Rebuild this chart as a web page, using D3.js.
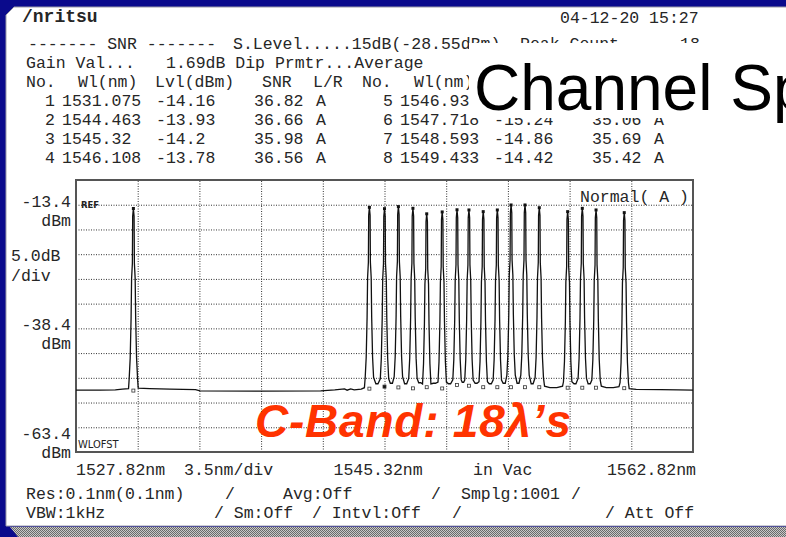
<!DOCTYPE html>
<html>
<head>
<meta charset="utf-8">
<script src="https://cdn.jsdelivr.net/npm/d3@7"></script>
<style>
  html, body { margin: 0; padding: 0; background: #0a0a8c; overflow: hidden; }
  svg { display: block; }
  .mono { font-family: "Liberation Mono", "DejaVu Sans Mono", monospace; font-size: 16.5px; fill: #262626; }
</style>
</head>
<body>
<div id="chart"></div>
<script>
// peaks (nm, dBm)
let peakWl = [1531.075, 1544.463, 1545.32, 1546.108, 1546.932, 1547.715, 1548.593, 1549.433,
              1550.11, 1550.92, 1551.72, 1552.50, 1553.29, 1554.10, 1555.71, 1556.54, 1557.32, 1558.92];
let peakLvl = [-14.16, -13.93, -14.2, -13.78, -14.12, -15.24, -14.86, -14.42,
               -14.46, -14.8, -14.46, -13.45, -13.45, -14.0, -14.8, -14.13, -14.46, -15.0];
// SNR noise markers under each peak
let noiseLvl = [-50.98, -50.59, -50.18, -50.34, -50.53, -50.30, -50.55, -49.84,
                -50.0, -50.3, -50.3, -50.3, -50.3, -50.3, -50.4, -50.4, -50.4, -50.5];

// shape of one peak as seen on screen: offset from centre (nm) and drop below top (dB)
let profileNm = [0, 0.040, 0.057, 0.102, 0.130, 0.181, 0.238];
let profileDrop = [0, 1.6, 11.1, 14.2, 22.2, 30.3, 34.4];

// noise floor and valleys between channels [nm, dBm]
let floorPts = [
  [1527.82, -50.9], [1529.2, -50.9], [1530.05, -50.85], [1530.45, -50.7], [1530.8, -50.6],
  [1531.35, -50.5], [1532.0, -50.6], [1533.15, -50.7], [1534.6, -50.8], [1534.85, -51.05],
  [1538.3, -51.1], [1541.7, -51.05], [1542.5, -50.85], [1543.05, -50.65], [1543.2, -50.9],
  [1543.4, -50.65], [1543.6, -50.85], [1544.0, -50.7], [1544.18, -50.4],
  [1544.83, -49.6], [1544.95, -49.6], [1545.65, -49.5], [1545.77, -49.5],
  [1546.46, -49.6], [1546.58, -49.6], [1547.26, -49.4], [1547.38, -49.4],
  [1548.09, -49.5], [1548.21, -49.5], [1548.95, -49.6], [1549.07, -49.6],
  [1549.73, -49.3], [1549.81, -49.3], [1550.46, -49.5], [1550.57, -49.5],
  [1551.26, -49.6], [1551.38, -49.6], [1552.05, -49.5], [1552.17, -49.5],
  [1552.84, -49.5], [1552.95, -49.5], [1553.64, -49.6], [1553.75, -49.6],
  [1554.40, -50.1], [1554.7, -50.4], [1555.1, -50.4], [1555.42, -50.1],
  [1556.07, -49.6], [1556.18, -49.6], [1556.87, -49.6], [1556.99, -49.6],
  [1557.62, -50.1], [1557.9, -50.4], [1558.3, -50.4], [1558.62, -50.2],
  [1559.2, -50.6], [1559.6, -50.75], [1561.0, -50.8], [1562.0, -50.85], [1562.82, -50.9]
];

// peak table shown above the plot
let tblNo = ['1', '2', '3', '4', '5', '6', '7', '8'];
let tblWl = ['1531.075', '1544.463', '1545.32', '1546.108', '1546.932', '1547.718', '1548.593', '1549.433'];
let tblLvl = ['-14.16', '-13.93', '-14.2', '-13.78', '-14.12', '-15.24', '-14.86', '-14.42'];
let tblSnr = ['36.82', '36.66', '35.98', '36.56', '36.41', '35.06', '35.69', '35.42'];

let yTickVals = [-13.4, -38.4, -63.4];
let xLabels = ['1527.82nm', '3.5nm/div', '1545.32nm', 'in Vac', '1562.82nm'];

let W = 786, H = 537;
let pL = 76, pR = 693, pT = 180, pB = 452;
// white label box pasted over the screen
let boxX = 469, boxY = 43, boxH = 75;

let x = d3.scaleLinear().domain([1527.82, 1562.82]).range([pL, pR]);
let y = d3.scaleLinear().domain([-63.4, -8.4]).range([pB, pT]);

let svg = d3.select('#chart').append('svg')
    .attr('width', W)
    .attr('height', H);

let defs = svg.append('defs');
let pat = defs.append('pattern').attr('id', 'dither')
    .attr('width', 2).attr('height', 2).attr('patternUnits', 'userSpaceOnUse');
pat.append('rect').attr('width', 2).attr('height', 2).attr('fill', '#c8c8c8');
pat.append('rect').attr('width', 1).attr('height', 1).attr('fill', '#6a6a6a');
pat.append('rect').attr('x', 1).attr('y', 1).attr('width', 1).attr('height', 1).attr('fill', '#6a6a6a');
defs.append('clipPath').attr('id', 'plotclip')
    .append('rect').attr('x', pL).attr('y', pT).attr('width', pR - pL).attr('height', pB - pT);
// everything on the screen except the pasted box
defs.append('clipPath').attr('id', 'screenclip')
    .append('path')
    .attr('clip-rule', 'evenodd')
    .attr('d', 'M0,0H' + W + 'V' + H + 'H0Z M' + boxX + ',' + boxY + 'H' + W + 'V' + (boxY + boxH) + 'H' + boxX + 'Z');

svg.append('path')
    .attr('d', 'M10,527 L786,527 L786,537 L18,537 Z')
    .attr('fill', 'url(#dither)');

// screen panel
svg.append('path')
    .attr('d', 'M6,15 L14,7 L790,7 L790,526 L6,526 Z')
    .attr('fill', '#ffffff')
    .attr('stroke', '#9a9aa8')
    .attr('stroke-width', 1);

let mono = svg.append('g').attr('class', 'mono').attr('clip-path', 'url(#screenclip)');

function txt(g, tx, ty, s, anchor) {
    return g.append('text')
        .attr('x', tx).attr('y', ty)
        .attr('text-anchor', anchor || 'start')
        .text(s);
}

// header
txt(mono, 22, 22, '/nritsu').attr('font-weight', 'bold').attr('font-size', 18);
txt(mono, 560, 23, '04-12-20 15:27');
txt(mono, 28, 49, '------- SNR -------');
txt(mono, 233, 49, 'S.Level.....15dB(-28.55dBm)');
txt(mono, 520, 49, 'Peak Count');
txt(mono, 680, 49, '18');
txt(mono, 26, 68, 'Gain Val...');
txt(mono, 166, 68, '1.69dB Dip Prmtr...Average');
txt(mono, 26, 87, 'No.');
txt(mono, 78, 87, 'Wl(nm)');
txt(mono, 155, 87, 'Lvl(dBm)');
txt(mono, 262, 87, 'SNR');
txt(mono, 313, 87, 'L/R');
txt(mono, 362, 87, 'No.');
txt(mono, 414, 87, 'Wl(nm)');

tblNo.forEach((n, i) => {
    let col = i < 4 ? 0 : 1;
    let row = i % 4;
    let by = 106 + row * 19;
    let ox = col === 0 ? 0 : 338;
    txt(mono, 55 + ox, by, n, 'end');
    txt(mono, 62 + ox, by, tblWl[i]);
    // cells fully under the pasted box are not visible at all
    if (ox + 156 > boxX && by - 13 > boxY && by + 4 < boxY + boxH) return;
    txt(mono, 156 + ox, by, tblLvl[i]);
    txt(mono, 254 + ox, by, tblSnr[i]);
    txt(mono, 316 + ox, by, 'A');
});

// plot grid
let xGrid = d3.range(11).map(i => 1527.82 + i * 3.5);
let yGrid = d3.range(12).map(i => -8.4 - i * 5);

svg.append('g')
    .attr('transform', 'translate(0,' + pB + ')')
    .call(d3.axisBottom(x).tickValues(xGrid.slice(1, 10)).tickSize(-(pB - pT)).tickFormat(''))
    .call(g => g.select('.domain').remove())
    .selectAll('line')
    .attr('stroke', '#333')
    .attr('stroke-dasharray', '1,1.5');

svg.append('g')
    .attr('transform', 'translate(' + pL + ',0)')
    .call(d3.axisLeft(y).tickValues(yGrid.slice(1, 11)).tickSize(-(pR - pL)).tickFormat(''))
    .call(g => g.select('.domain').remove())
    .selectAll('line')
    .attr('stroke', '#333')
    .attr('stroke-dasharray', '1,1.5');

svg.append('rect')
    .attr('x', pL).attr('y', pT)
    .attr('width', pR - pL).attr('height', pB - pT)
    .attr('fill', 'none')
    .attr('stroke', '#555')
    .attr('stroke-width', 2);

// trace
let pts = floorPts.map(d => ({wl: d[0], db: d[1]}));
peakWl.forEach((wl, i) => {
    profileNm.forEach((off, k) => {
        pts.push({wl: wl - off, db: peakLvl[i] - profileDrop[k]});
        if (off > 0) pts.push({wl: wl + off, db: peakLvl[i] - profileDrop[k]});
    });
});
pts.sort((a, b) => a.wl - b.wl);

svg.append('path')
    .datum(pts)
    .attr('clip-path', 'url(#plotclip)')
    .attr('fill', 'none')
    .attr('stroke', '#111')
    .attr('stroke-width', 1.3)
    .attr('d', d3.line().x(d => x(d.wl)).y(d => y(d.db)));

// peak-top markers
svg.selectAll('.pk')
    .data(peakWl)
    .enter().append('rect')
    .attr('class', 'pk')
    .attr('x', d => x(d) - 1.5)
    .attr('y', (d, i) => y(peakLvl[i]) - 1.5)
    .attr('width', 3).attr('height', 3)
    .attr('fill', '#111');

// noise markers
svg.selectAll('.nz')
    .data(peakWl)
    .enter().append('rect')
    .attr('class', 'nz')
    .attr('x', d => x(d) - 1.5)
    .attr('y', (d, i) => y(noiseLvl[i]) - 1.5)
    .attr('width', 3).attr('height', 3)
    .attr('fill', (d, i) => i === 2 ? '#111' : '#fff')
    .attr('stroke', '#333')
    .attr('stroke-width', 0.8);

// labels inside plot
svg.append('text').attr('x', 81).attr('y', 208)
    .attr('font-family', 'DejaVu Sans').attr('font-size', 8.5).attr('font-weight', 'bold')
    .attr('fill', '#222').text('REF');
svg.append('text').attr('x', 78).attr('y', 448)
    .attr('font-family', 'DejaVu Sans Condensed, DejaVu Sans').attr('font-size', 11)
    .attr('fill', '#222').text('WLOFST');
txt(mono, 580, 202, 'Normal( A )');

// y labels
yTickVals.forEach((v, i) => {
    let ly = i === 2 ? y(v) - 13 : y(v) + 2;
    txt(mono, 71, ly, v.toFixed(1), 'end');
    txt(mono, 71, ly + 19, 'dBm', 'end');
});
txt(mono, 11, 261, '5.0dB');
txt(mono, 11, 281, '/div');

// x labels
let xLabelPos = [[x(1527.82), 'start'], [184, 'start'], [x(1545.32) - 51, 'start'], [473, 'start'], [x(1562.82) + 3, 'end']];
xLabels.forEach((s, i) => txt(mono, xLabelPos[i][0], 475, s, xLabelPos[i][1]));

// settings rows
txt(mono, 26, 499, 'Res:0.1nm(0.1nm)');
txt(mono, 225, 499, '/');
txt(mono, 283, 499, 'Avg:Off');
txt(mono, 431, 499, '/');
txt(mono, 461, 499, 'Smplg:1001');
txt(mono, 571, 499, '/');
txt(mono, 26, 518, 'VBW:1kHz');
txt(mono, 214, 518, '/ Sm:Off');
txt(mono, 312, 518, '/ Intvl:Off');
txt(mono, 452, 518, '/');
txt(mono, 605, 518, '/ Att Off');

// slide overlays
svg.append('rect')
    .attr('x', boxX).attr('y', boxY)
    .attr('width', W - boxX).attr('height', boxH)
    .attr('fill', '#ffffff');
svg.append('text')
    .attr('x', 474).attr('y', 110)
    .attr('font-family', 'Liberation Sans, Arial, sans-serif')
    .attr('font-size', 64)
    .attr('fill', '#000')
    .text('Channel Spacing');

svg.append('text')
    .attr('x', 255).attr('y', 437)
    .attr('font-family', 'Liberation Sans, Arial, sans-serif')
    .attr('font-size', 46)
    .attr('font-weight', 'bold')
    .attr('font-style', 'italic')
    .attr('fill', '#ff3300')
    .attr('textLength', 316)
    .attr('lengthAdjust', 'spacing')
    .text('C-Band: 18λ’s');
</script>
</body>
</html>
